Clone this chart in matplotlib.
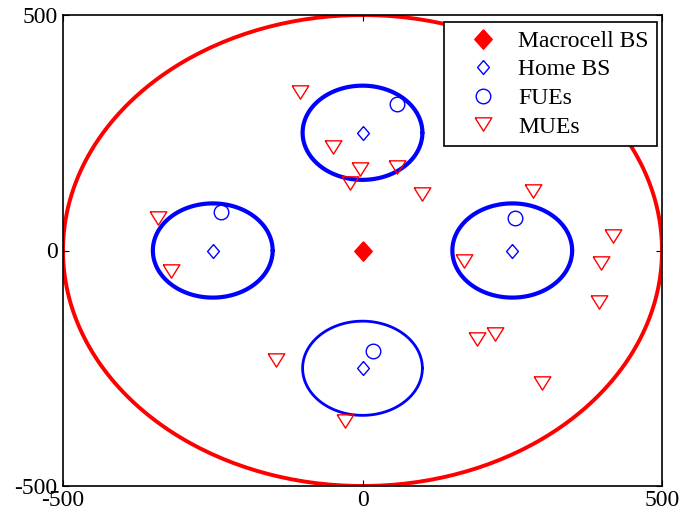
import numpy as np
import matplotlib.pyplot as plt

plt.rcParams['font.family'] = ['Liberation Serif', 'DejaVu Serif']
plt.rcParams['axes.unicode_minus'] = False

# macrocell
macro_bs = (0, 0)
macro_radius = 500

# femtocells (home base stations)
home_x = [-250, 0, 250, 0]
home_y = [0, 250, 0, -250]
home_radius = [100, 100, 100, 100]
home_lw = [3.0, 3.0, 3.0, 2.0]

# femtocell users
fue_x = [-237, 58, 255, 17]
fue_y = [82, 310, 68, -213]

# macrocell users
mue_x = [-341, -320, -105, -49, -4, -21, 58, 100, 285, 419, 169, 398, 395,
         -144, -29, 191, 222, 299]
mue_y = [68, -43, 337, 219, 173, 143, 178, 120, 127, 31, -22, -27, -109,
         -232, -362, -188, -177, -281]

fig = plt.figure(figsize=(6.82, 5.17), dpi=100)
ax = fig.add_axes([63 / 682, 31 / 517, 599 / 682, 471 / 517])

t = np.linspace(0, 2 * np.pi, 300)
ax.plot(macro_bs[0] + macro_radius * np.cos(t), macro_bs[1] + macro_radius * np.sin(t),
        color='red', lw=2.8, zorder=1, solid_joinstyle='round')
for cx, cy, r, lw in zip(home_x, home_y, home_radius, home_lw):
    ax.plot(cx + r * np.cos(t), cy + r * np.sin(t), color='blue', lw=lw, zorder=1,
            solid_joinstyle='round', solid_capstyle='round')

big_diamond = [(0, 1), (0.9, 0), (0, -1), (-0.9, 0), (0, 1)]
small_diamond = [(0, 1), (0.85, 0), (0, -1), (-0.85, 0), (0, 1)]
ax.plot(macro_bs[0], macro_bs[1], marker=big_diamond, color='red', markersize=14,
        ls='none', label='Macrocell BS')
ax.plot(home_x, home_y, marker=small_diamond, mfc='none', mec='blue', markersize=10,
        mew=1, ls='none', label='Home BS')
ax.plot(fue_x, fue_y, 'o', mfc='none', mec='blue', markersize=10.5, mew=1,
        ls='none', label='FUEs')
ax.plot(mue_x, mue_y, marker=[(-1, 0.8), (1, 0.8), (0, -0.8), (-1, 0.8)],
        mfc='none', mec='red', markersize=12, mew=1, ls='none', label='MUEs')

ax.set_xlim(-500, 500)
ax.set_ylim(-500, 500)
ax.set_xticks([-500, 0, 500])
ax.set_yticks([-500, 0, 500])
ax.tick_params(direction='in', top=True, right=True, labelsize=17, length=4)
ax.tick_params(axis='x', pad=3)
ax.tick_params(axis='y', pad=4)
for s in ax.spines.values():
    s.set_linewidth(1.2)

leg = ax.legend(loc='upper right', bbox_to_anchor=(657 / 682, 1 - 22 / 517),
                bbox_transform=fig.transFigure, borderaxespad=0,
                fontsize=17, fancybox=False, framealpha=1, edgecolor='black',
                handletextpad=0.2, borderpad=0.35, labelspacing=0.3,
                handlelength=2.6)
leg.get_frame().set_linewidth(1.2)

fig.savefig('out.png', dpi=100)
